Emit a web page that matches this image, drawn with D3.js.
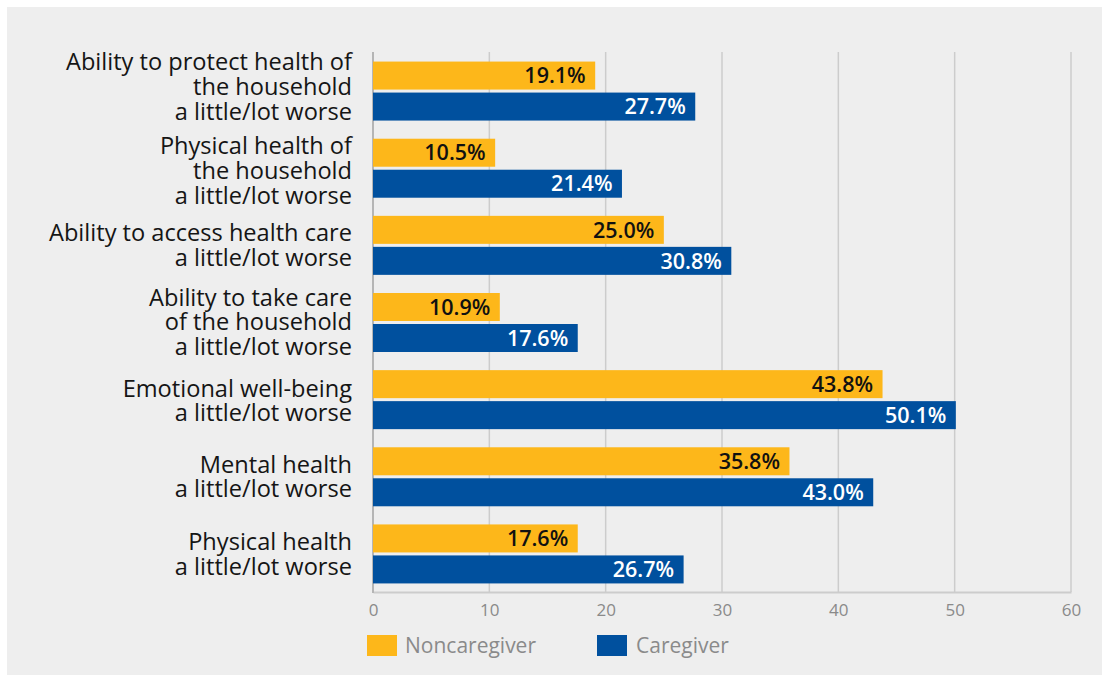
<!DOCTYPE html>
<html><head><meta charset="utf-8">
<script src="https://cdn.jsdelivr.net/npm/d3@7"></script>
<style>
html,body{margin:0;padding:0;background:#fff;}
svg{display:block;font-family:"Open Sans",sans-serif;}
</style></head>
<body>
<svg id="chart" width="1102" height="675"></svg>
<script>
const categories = [
  ["Ability to protect health of","the household","a little/lot worse"],
  ["Physical health of","the household","a little/lot worse"],
  ["Ability to access health care","a little/lot worse"],
  ["Ability to take care","of the household","a little/lot worse"],
  ["Emotional well-being","a little/lot worse"],
  ["Mental health","a little/lot worse"],
  ["Physical health","a little/lot worse"]
];
const seriesNames = ["Noncaregiver","Caregiver"];
const noncaregiver = [19.1, 10.5, 25.0, 10.9, 43.8, 35.8, 17.6];
const caregiver = [27.7, 21.4, 30.8, 17.6, 50.1, 43.0, 26.7];
const xTicks = [0,10,20,30,40,50,60];
const colors = ["#FDB71A","#00509E"];
const labelColors = ["#111","#fff"];
// small vertical nudges of the category labels (layout only)
const labelNudge = [-4.5, 2.5, -0.5, -0.5, 1, 0, 0.5];

const svg = d3.select("#chart");
svg.append("rect").attr("x",7).attr("y",7).attr("width",1095).attr("height",668).attr("fill","#eeeeee");

const pLeft = 373, pRight = 1071, pTop = 52, pBottom = 592;
const x = d3.scaleLinear().domain([0,60]).range([pLeft,pRight]);
const idx = d3.range(categories.length);
const y = d3.scaleBand().domain(idx).range([pTop,pBottom]).paddingInner(0).paddingOuter(0);
const band = y.bandwidth();
const barH = 28, gap = 3, padTop = (band - 2*barH - gap)/2 + 0.5;

// grid
svg.append("g").selectAll("line").data(xTicks.slice(1)).join("line")
  .attr("x1",d=>x(d)).attr("x2",d=>x(d)).attr("y1",pTop).attr("y2",pBottom)
  .attr("stroke","#cccccc").attr("stroke-width",1.5);
// bottom axis
const xAxis = d3.axisBottom(x).tickValues(xTicks).tickSize(0).tickPadding(12).tickFormat(d3.format("d"));
const ax = svg.append("g").attr("transform",`translate(0,${pBottom})`).call(xAxis);
ax.select(".domain").attr("stroke","#cccccc").attr("stroke-width",2);
ax.selectAll("text").attr("fill","#8a8a8a").attr("font-size",17).attr("font-family","Open Sans");
// left axis line
svg.append("line").attr("x1",pLeft).attr("x2",pLeft).attr("y1",pTop).attr("y2",pBottom+1).attr("stroke","#b5b5b5").attr("stroke-width",2);

const data = [noncaregiver, caregiver];
data.forEach((vals,s)=>{
  const g = svg.append("g");
  g.selectAll("rect").data(vals).join("rect")
    .attr("x",x(0)).attr("y",(d,i)=>y(i)+padTop+s*(barH+gap))
    .attr("width",d=>x(d)-x(0)).attr("height",barH).attr("fill",colors[s]);
  g.selectAll("text").data(vals).join("text")
    .attr("x",d=>x(d)-9.5).attr("y",(d,i)=>y(i)+padTop+s*(barH+gap)+barH/2)
    .attr("dy","0.36em").attr("text-anchor","end")
    .attr("font-size",21.5).attr("font-weight",600).attr("fill",labelColors[s])
    .text(d=>d.toFixed(1)+"%");
});

// category labels
const lh = 24.8;
idx.forEach(i=>{
  const lines = categories[i];
  const cy = y(i)+band/2 + labelNudge[i];
  const t = svg.append("text").attr("text-anchor","end").attr("font-size",23.6).attr("fill","#151515");
  lines.forEach((ln,k)=>{
    t.append("tspan").attr("x",352).attr("y",cy + (k-(lines.length-1)/2)*lh + 8.8).text(ln);
  });
});

// legend
const leg = [{x:367,tx:405},{x:597,tx:636}];
seriesNames.forEach((n,s)=>{
  svg.append("rect").attr("x",leg[s].x).attr("y",635).attr("width",30).attr("height",21).attr("fill",colors[s]);
  svg.append("text").attr("x",leg[s].tx).attr("y",652.5).attr("font-size",21).attr("fill","#8a8a8a").text(n);
});
</script>
</body></html>
